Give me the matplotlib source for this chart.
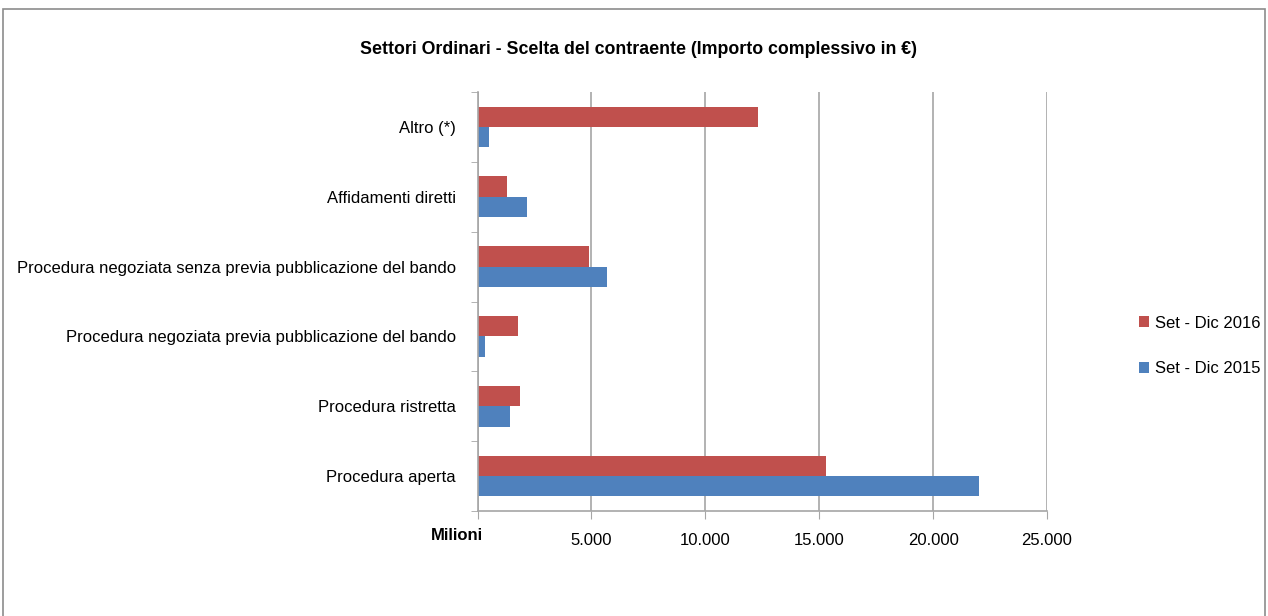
import matplotlib.pyplot as plt
from matplotlib.patches import Rectangle
from matplotlib.ticker import FuncFormatter
import numpy as np

categories = [
    "Procedura aperta",
    "Procedura ristretta",
    "Procedura negoziata previa pubblicazione del bando",
    "Procedura negoziata senza previa pubblicazione del bando",
    "Affidamenti diretti",
    "Altro (*)",
]
set_dic_2016 = [15300, 1880, 1760, 4900, 1280, 12300]
set_dic_2015 = [22000, 1440, 310, 5670, 2180, 500]
series_labels = ["Set - Dic 2016", "Set - Dic 2015"]
x_ticks = [5000, 10000, 15000, 20000, 25000]

plt.rcParams["font.family"] = ["Liberation Sans", "DejaVu Sans"]
red = "#C0504D"
blue = "#4F81BD"
grid_col = "#A6A6A6"

fig = plt.figure(figsize=(12.68, 6.16), dpi=100)
# chart area border (bottom edge falls outside the image, as in the original)
fig.patches.append(Rectangle((3 / 1268, -0.05), 1262 / 1268, 1.05 - 9 / 616, transform=fig.transFigure,
                             fill=False, edgecolor="#8C8C8C", linewidth=1.2))

ax = fig.add_axes([477.6 / 1268, 1 - 511 / 616, (1047 - 477.6) / 1268, (511 - 92) / 616])
y = np.arange(len(categories))
h = 0.29
ax.barh(y + h / 2, set_dic_2016, height=h, color=red, label=series_labels[0])
ax.barh(y - h / 2, set_dic_2015, height=h, color=blue, label=series_labels[1])

ax.set_xlim(0, 25000)
ax.set_ylim(-0.5, len(categories) - 0.5)
ax.set_xticks([0] + x_ticks)
ax.xaxis.set_major_formatter(FuncFormatter(lambda v, p: "" if v == 0 else f"{int(v):,}".replace(",", ".")))
ax.set_yticks(y)
ax.set_yticklabels(categories)
ax.set_yticks(np.arange(-0.5, len(categories), 1), minor=True)
ax.tick_params(axis="y", which="major", length=0, pad=15.5, labelsize=12)
ax.tick_params(axis="y", which="minor", length=5, color=grid_col, direction="out")
ax.tick_params(axis="x", length=6, color=grid_col, direction="out", pad=10, labelsize=12)
ax.grid(axis="x", color=grid_col, linewidth=1.2)
ax.set_axisbelow(True)
for s in ["top", "right"]:
    ax.spines[s].set_visible(False)
for s in ["left", "bottom"]:
    ax.spines[s].set_color(grid_col)
    ax.spines[s].set_linewidth(1.2)

fig.text(457 / 1268, 1 - 536 / 616, "Milioni", ha="center", va="center", fontsize=12, fontweight="bold")
fig.text(638.5 / 1268, 1 - 50 / 616, "Settori Ordinari - Scelta del contraente (Importo complessivo in €)",
         ha="center", va="center", fontsize=12.75, fontweight="bold")

handles, labels = ax.get_legend_handles_labels()
fig.legend(handles, labels, loc="center left", bbox_to_anchor=(1124 / 1268, 1 - 346 / 616),
           frameon=False, fontsize=12, handlelength=0.6, handleheight=0.6, handletextpad=0.35,
           labelspacing=1.85)

fig.savefig("out.png", dpi=100)
